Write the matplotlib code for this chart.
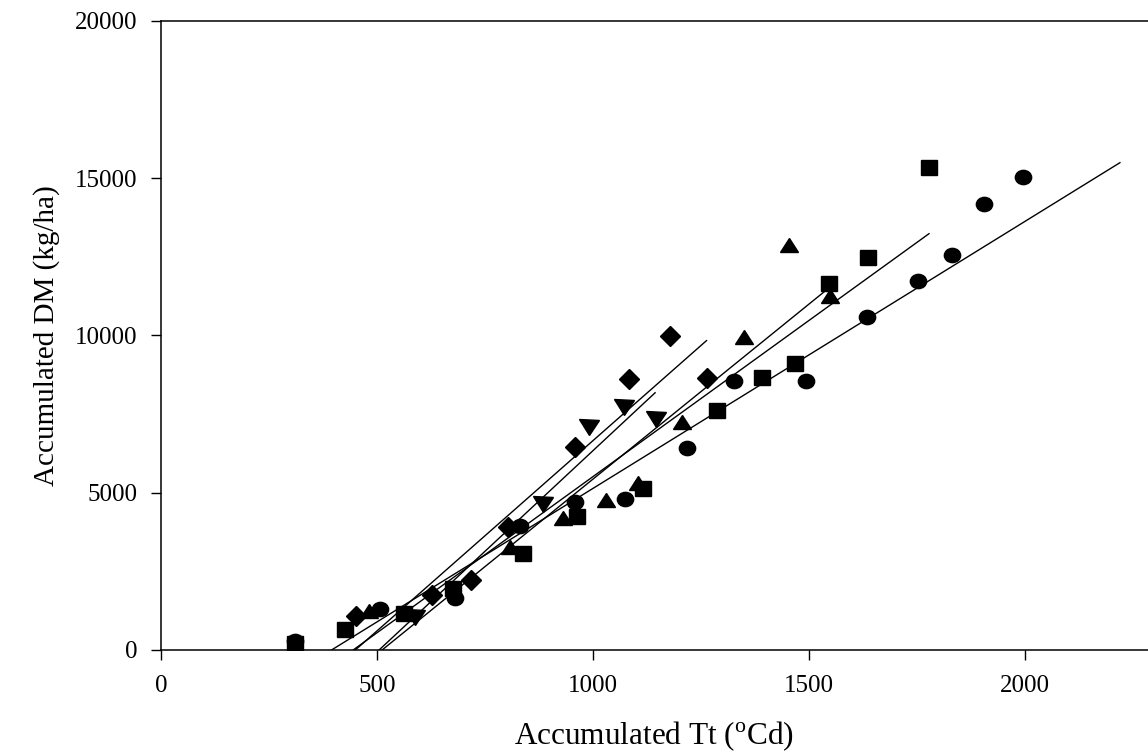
import matplotlib
matplotlib.use('Agg')
import matplotlib.pyplot as plt
import numpy as np
from matplotlib.markers import MarkerStyle
from matplotlib.transforms import Affine2D

plt.rcParams['font.family'] = ['Liberation Serif', 'DejaVu Serif']
plt.rcParams['mathtext.fontset'] = 'custom'
plt.rcParams['mathtext.rm'] = 'Liberation Serif'

# accumulated thermal time (oCd) and dry matter (kg/ha)
circle_tt = [310, 507, 680, 831, 958, 1074, 1217, 1326, 1493, 1634, 1752, 1831, 1905, 1995]
circle_dm = [300, 1300, 1650, 3930, 4700, 4800, 6420, 8560, 8560, 10590, 11740, 12560, 14180, 15040]

square_tt = [310, 426, 562, 676, 838, 963, 1116, 1287, 1391, 1468, 1546, 1637, 1778]
square_dm = [230, 670, 1180, 1970, 3080, 4260, 5150, 7630, 8680, 9130, 11670, 12500, 15360]

triup_tt = [481, 808, 930, 1030, 1104, 1206, 1350, 1454, 1549]
triup_dm = [1240, 3280, 4200, 4770, 5310, 7250, 9950, 12880, 11260]

tridown_tt = [588, 884, 991, 1072, 1146]
tridown_dm = [1050, 4640, 7090, 7730, 7350]

diamond_tt = [451, 627, 718, 803, 958, 1083, 1178, 1264]
diamond_dm = [1080, 1750, 2230, 3910, 6460, 8620, 9990, 8650]

# fitted lines: x-intercept, last Tt of the line, slope (kg/ha per oCd)
line_x0 = {'circle': 395, 'square': 445, 'triup': 512, 'tridown': 505, 'diamond': 450}
line_x1 = {'circle': 2220, 'square': 1778, 'triup': 1546, 'tridown': 1144, 'diamond': 1263}
line_slope = {'circle': 8.49, 'square': 9.93, 'triup': 11.13, 'tridown': 12.8, 'diamond': 12.1}

xticks = [0, 500, 1000, 1500, 2000]
yticks = [0, 5000, 10000, 15000, 20000]


def squash(marker, sx):
    return MarkerStyle(marker, transform=Affine2D().scale(sx, 1.0))


series = [
    ('circle', circle_tt, circle_dm, squash('o', 1.14), 10.3),
    ('square', square_tt, square_dm, squash('s', 1.11), 10.8),
    ('triup', triup_tt, triup_dm, squash('^', 1.4), 9.7),
    ('tridown', tridown_tt, tridown_dm, squash('v', 1.33), 10.8),
    ('diamond', diamond_tt, diamond_dm, squash('D', 1.05), 9.7),
]

fig = plt.figure(figsize=(11.48, 7.55), dpi=100)
ax = fig.add_axes([0.1402, 0.1391, 0.8598, 0.8331])

for name, xs, ys, mk, ms in series:
    ax.plot(xs, ys, linestyle='none', marker=mk, markersize=ms,
            color='black', zorder=3)
    lx = np.array([line_x0[name], line_x1[name]], dtype=float)
    ly = line_slope[name] * (lx - line_x0[name])
    ax.plot(lx, ly, color='black', linewidth=1.0, zorder=2)

ax.set_xlim(0, 2285)
ax.set_ylim(0, 20000)
ax.set_xticks(xticks)
ax.set_yticks(yticks)
ax.tick_params(axis='both', direction='out', length=7, width=1.0, labelsize=18)
ax.tick_params(axis='x', pad=11)
ax.tick_params(axis='y', pad=10)
ax.spines['right'].set_visible(False)
for s in ['left', 'bottom', 'top']:
    ax.spines[s].set_linewidth(1.1)

ax.set_xlabel('Accumulated Tt ($^{\\rm o}$Cd)', fontsize=22.5, labelpad=16)
ax.set_ylabel('Accumulated DM (kg/ha)', fontsize=21, labelpad=11)

fig.savefig('out.png', dpi=100)
